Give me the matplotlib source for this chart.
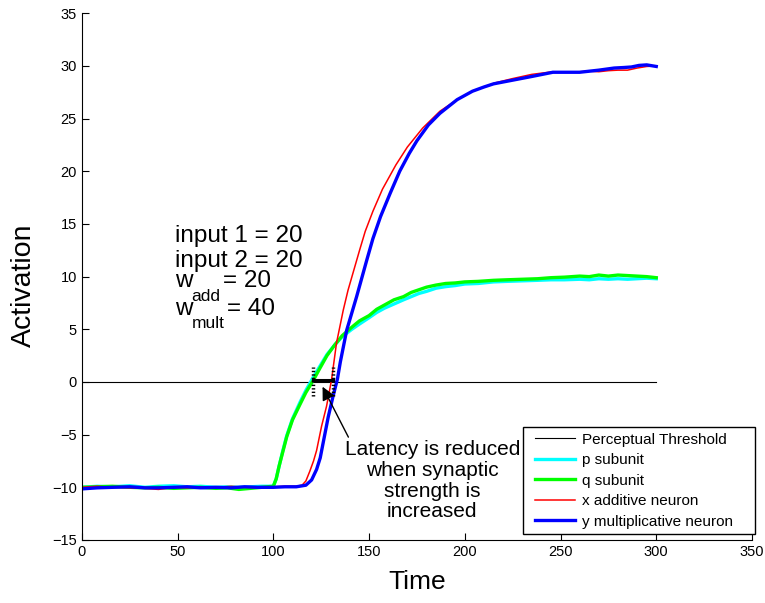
import matplotlib
matplotlib.use("Agg")
import matplotlib.pyplot as plt
from matplotlib.lines import Line2D
from matplotlib.legend_handler import HandlerLine2D

plt.rcParams["font.family"] = ["Liberation Sans", "DejaVu Sans"]

# p subunit (cyan) and q subunit (green)
t_pq = [0, 8, 16, 25, 33, 40, 48, 55, 62, 70, 76, 82, 88, 94, 100, 101.5, 103,
        105, 107, 110, 114, 117, 121, 124, 128, 132, 136, 141, 145, 150, 154,
        158, 163, 168, 172, 176, 180, 185, 190, 195, 200, 207, 215, 222, 230,
        238, 245, 252, 260, 265, 270, 275, 280, 285, 290, 295, 300]
p_vals = [-10.0, -9.9, -9.95, -9.85, -10.0, -9.9, -9.85, -9.95, -9.9, -10.0,
          -9.95, -10.0, -9.95, -9.9, -9.9, -9.2, -8.0, -6.5, -5.1, -3.5, -1.9,
          -0.8, 0.5, 1.4, 2.6, 3.5, 4.3, 5.0, 5.5, 6.1, 6.6, 7.0, 7.4, 7.8, 8.1,
          8.4, 8.6, 8.9, 9.05, 9.15, 9.3, 9.35, 9.5, 9.55, 9.6, 9.65, 9.7, 9.7,
          9.75, 9.7, 9.8, 9.75, 9.8, 9.75, 9.8, 9.85, 9.8]
q_vals = [-10.0, -9.95, -9.9, -10.0, -10.05, -10.0, -10.1, -10.05, -10.0, -10.1,
          -10.05, -10.2, -10.1, -10.0, -9.9, -9.2, -8.0, -6.6, -5.2, -3.6, -2.1,
          -1.0, 0.2, 1.2, 2.5, 3.5, 4.4, 5.2, 5.8, 6.3, 6.9, 7.3, 7.8, 8.1, 8.5,
          8.75, 9.0, 9.2, 9.35, 9.4, 9.5, 9.55, 9.65, 9.7, 9.75, 9.8, 9.9, 9.95,
          10.05, 10.0, 10.15, 10.05, 10.15, 10.1, 10.05, 10.0, 9.9]

# x additive neuron (red)
t_x = [0, 8, 16, 25, 33, 40, 48, 55, 62, 70, 78, 85, 92, 100, 106, 112, 115,
       117, 119, 121, 122.6, 125.2, 127.8, 130.4, 133, 136.5, 139, 141.7,
       145.2, 148, 152, 157, 164, 170, 178, 187, 196, 204, 210, 216, 225, 235,
       246, 253, 260, 265, 270, 275, 280, 285, 290, 295, 300]
x_vals = [-10.0, -9.9, -10.0, -10.05, -10.1, -10.2, -10.0, -10.05, -9.95, -10.0,
          -9.9, -10.0, -10.05, -9.95, -9.9, -9.9, -9.8, -9.4, -8.5, -7.5, -6.5,
          -4.2, -2.3, 0.2, 3.7, 6.8, 8.7, 10.4, 12.6, 14.3, 16.2, 18.3, 20.6,
          22.3, 24.1, 25.7, 26.8, 27.6, 28.0, 28.4, 28.8, 29.2, 29.45, 29.4,
          29.45, 29.5, 29.45, 29.55, 29.6, 29.6, 29.8, 29.95, 30.0]

# y multiplicative neuron (blue)
t_y = [0, 8, 16, 25, 33, 40, 48, 55, 62, 70, 78, 85, 92, 100, 106, 112, 117,
       120, 122.6, 124.5, 126, 128.7, 131, 133.5, 135, 138.3, 143.5, 148.7,
       152, 156, 161, 166, 171, 175, 181, 187, 196, 204, 210, 215, 225, 235,
       246, 253, 260, 265, 270, 278, 283, 287, 291, 295, 300]
y_vals = [-10.15, -10.05, -10.0, -9.95, -10.05, -10.05, -10.0, -9.95, -10.05,
          -10.0, -10.05, -9.95, -10.0, -10.0, -9.95, -9.95, -9.8, -9.3, -8.3,
          -7.2, -5.8, -3.3, -1.5, 0.3, 1.9, 4.9, 8.1, 11.5, 13.6, 15.7, 17.9,
          20.0, 21.7, 22.9, 24.4, 25.5, 26.8, 27.6, 28.0, 28.3, 28.65, 29.0,
          29.4, 29.4, 29.4, 29.5, 29.6, 29.8, 29.85, 29.9, 30.05, 30.1, 29.95]

threshold_t = [0, 300]
threshold_v = [0, 0]

# latency markers
lat_fast = 120.9
lat_slow = 131.0

fig = plt.figure(figsize=(7.65, 6.03), dpi=100)
ax = fig.add_axes([0.107, 0.1045, 0.876, 0.8735])

ax.plot(threshold_t, threshold_v, color="black", lw=0.8, label="Perceptual Threshold")
ax.plot(t_pq, p_vals, color="#00ffff", lw=2.4, label="p subunit")
ax.plot(t_pq, q_vals, color="#00ff00", lw=2.4, label="q subunit")
ax.plot(t_x, x_vals, color="red", lw=1.1, label="x additive neuron")
ax.plot(t_y, y_vals, color="blue", lw=2.4, label="y multiplicative neuron")

# latency bracket
ax.plot([lat_fast, lat_fast], [-1.3, 1.4], color="black", lw=2.5, ls=(0, (0.4, 0.6)))
ax.plot([lat_slow, lat_slow], [-1.3, 1.4], color="black", lw=2.5, ls=(0, (0.4, 0.6)))
ax.plot([lat_fast, lat_slow], [0.2, 0.2], color="black", lw=2.2)

ax.annotate("Latency is reduced\nwhen synaptic\nstrength is\nincreased",
            xy=(125.7, -0.45), xytext=(183, -5.5), ha="center", va="top",
            fontsize=15, linespacing=1.12,
            arrowprops=dict(arrowstyle="-|>", color="black", lw=1,
                            mutation_scale=20, shrinkA=0, shrinkB=0,
                            relpos=(0.03, 1.0)))

# parameter block, MATLAB style subscripts
ax.text(48.6, 13.31, "input 1 = 20", fontsize=17.5)
ax.text(48.6, 10.94, "input 2 = 20", fontsize=17.5)
ax.text(48.6, 8.98, "w", fontsize=17.5)
ax.text(57.2, 7.71, "add", fontsize=12.5)
ax.text(73.5, 8.98, "= 20", fontsize=17.5)
ax.text(48.6, 6.36, "w", fontsize=17.5)
ax.text(57.2, 5.12, "mult", fontsize=12.5)
ax.text(75.6, 6.36, "= 40", fontsize=17.5)

ax.set_xlim(0, 350)
ax.set_ylim(-15, 35)
ax.set_xticks(range(0, 351, 50))
ax.set_yticks(range(-15, 36, 5))
ax.tick_params(direction="in", length=5, labelsize=10.5)
ax.spines["top"].set_visible(False)
ax.spines["right"].set_visible(False)
ax.set_xlabel("Time", fontsize=19, labelpad=8)
ax.set_ylabel("Activation", fontsize=20.5)
ax.yaxis.set_label_coords(-0.067, 0.484)

leg = ax.legend(loc="lower left", bbox_to_anchor=(0.658, 0.011, 0.3465, 0.1),
                mode="expand", fontsize=11,
                fancybox=False, edgecolor="black", framealpha=1,
                handlelength=3.07, borderaxespad=0, labelspacing=0.43,
                handletextpad=0.46, borderpad=0.35,
                handler_map={Line2D: HandlerLine2D(xpad=0.46)})
leg.get_frame().set_linewidth(1)

fig.savefig("out.png", dpi=100)
